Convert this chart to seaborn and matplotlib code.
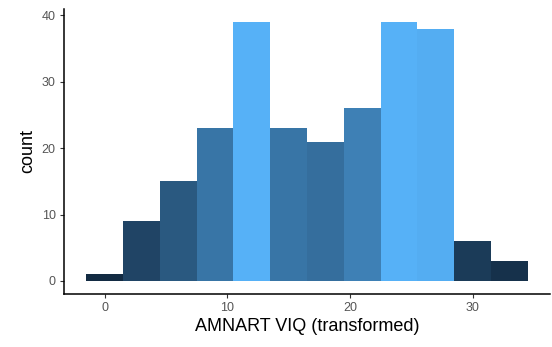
import numpy as np
import pandas as pd
import matplotlib
matplotlib.use("Agg")
import matplotlib.pyplot as plt
import seaborn as sns

# Histogram of transformed AMNART VIQ scores (bin width 3)
bin_centers = [0, 3, 6, 9, 12, 15, 18, 21, 24, 27, 30, 33]
bin_counts = [1, 9, 15, 23, 39, 23, 21, 26, 39, 38, 6, 3]
bin_width = 3
x_ticks = [0, 10, 20, 30]
y_ticks = [0, 10, 20, 30, 40]

df = pd.DataFrame({"viq": bin_centers, "n": bin_counts})
edges = [c - bin_width / 2 for c in bin_centers] + [bin_centers[-1] + bin_width / 2]


def srgb_to_lab(rgb):
    rgb = np.asarray(rgb, float)
    lin = np.where(rgb <= 0.04045, rgb / 12.92, ((rgb + 0.055) / 1.055) ** 2.4)
    m = np.array([[0.4124, 0.3576, 0.1805],
                  [0.2126, 0.7152, 0.0722],
                  [0.0193, 0.1192, 0.9505]])
    xyz = m @ lin / np.array([0.95047, 1.0, 1.08883])
    f = np.where(xyz > 0.008856, np.cbrt(xyz), 7.787 * xyz + 16 / 116)
    return np.array([116 * f[1] - 16, 500 * (f[0] - f[1]), 200 * (f[1] - f[2])])


def lab_to_srgb(lab):
    L, a, b = lab
    fy = (L + 16) / 116
    fx = fy + a / 500
    fz = fy - b / 200
    f = np.array([fx, fy, fz])
    xyz = np.where(f ** 3 > 0.008856, f ** 3, (f - 16 / 116) / 7.787)
    xyz = xyz * np.array([0.95047, 1.0, 1.08883])
    m = np.array([[3.2406, -1.5372, -0.4986],
                  [-0.9689, 1.8758, 0.0415],
                  [0.0557, -0.2040, 1.0570]])
    lin = m @ xyz
    rgb = np.where(lin <= 0.0031308, 12.92 * lin,
                   1.055 * np.clip(lin, 0, None) ** (1 / 2.4) - 0.055)
    return np.clip(rgb, 0, 1)


low = srgb_to_lab(matplotlib.colors.to_rgb("#132B43"))
high = srgb_to_lab(matplotlib.colors.to_rgb("#56B1F7"))


def gradient(v, vmin, vmax):
    t = (v - vmin) / (vmax - vmin)
    return tuple(lab_to_srgb(low + t * (high - low)))


sns.set_style("white")
plt.rcParams["font.family"] = ["Liberation Sans", "DejaVu Sans"]

fig = plt.figure(figsize=(5.52, 3.47), dpi=100)
ax = fig.add_axes([0.116, 0.153, 0.880, 0.821])

sns.histplot(data=df, x="viq", weights="n", bins=edges, ax=ax,
             stat="count", element="bars", linewidth=0, alpha=1)

vmin, vmax = min(bin_counts), max(bin_counts)
for patch in ax.patches:
    h = patch.get_height()
    patch.set_facecolor(gradient(h, vmin, vmax))
    patch.set_edgecolor("none")

span_x = edges[-1] - edges[0]
ax.set_xlim(edges[0] - 0.05 * span_x, edges[-1] + 0.05 * span_x)
ax.set_ylim(-0.05 * vmax, vmax * 1.05)
ax.set_xticks(x_ticks)
ax.set_yticks(y_ticks)

for side in ["top", "right"]:
    ax.spines[side].set_visible(False)
for side in ["left", "bottom"]:
    ax.spines[side].set_color("black")
    ax.spines[side].set_linewidth(1.1)

ax.tick_params(axis="both", which="major", length=3, width=0.8,
               color="#333333", labelcolor="#555555", labelsize=9, pad=3,
               left=True, bottom=True)
ax.set_xlabel("AMNART VIQ (transformed)", fontsize=13, color="black", labelpad=3)
ax.set_ylabel("count", fontsize=13, color="black", labelpad=4)
ax.grid(False)

fig.savefig("out.png", dpi=100)
